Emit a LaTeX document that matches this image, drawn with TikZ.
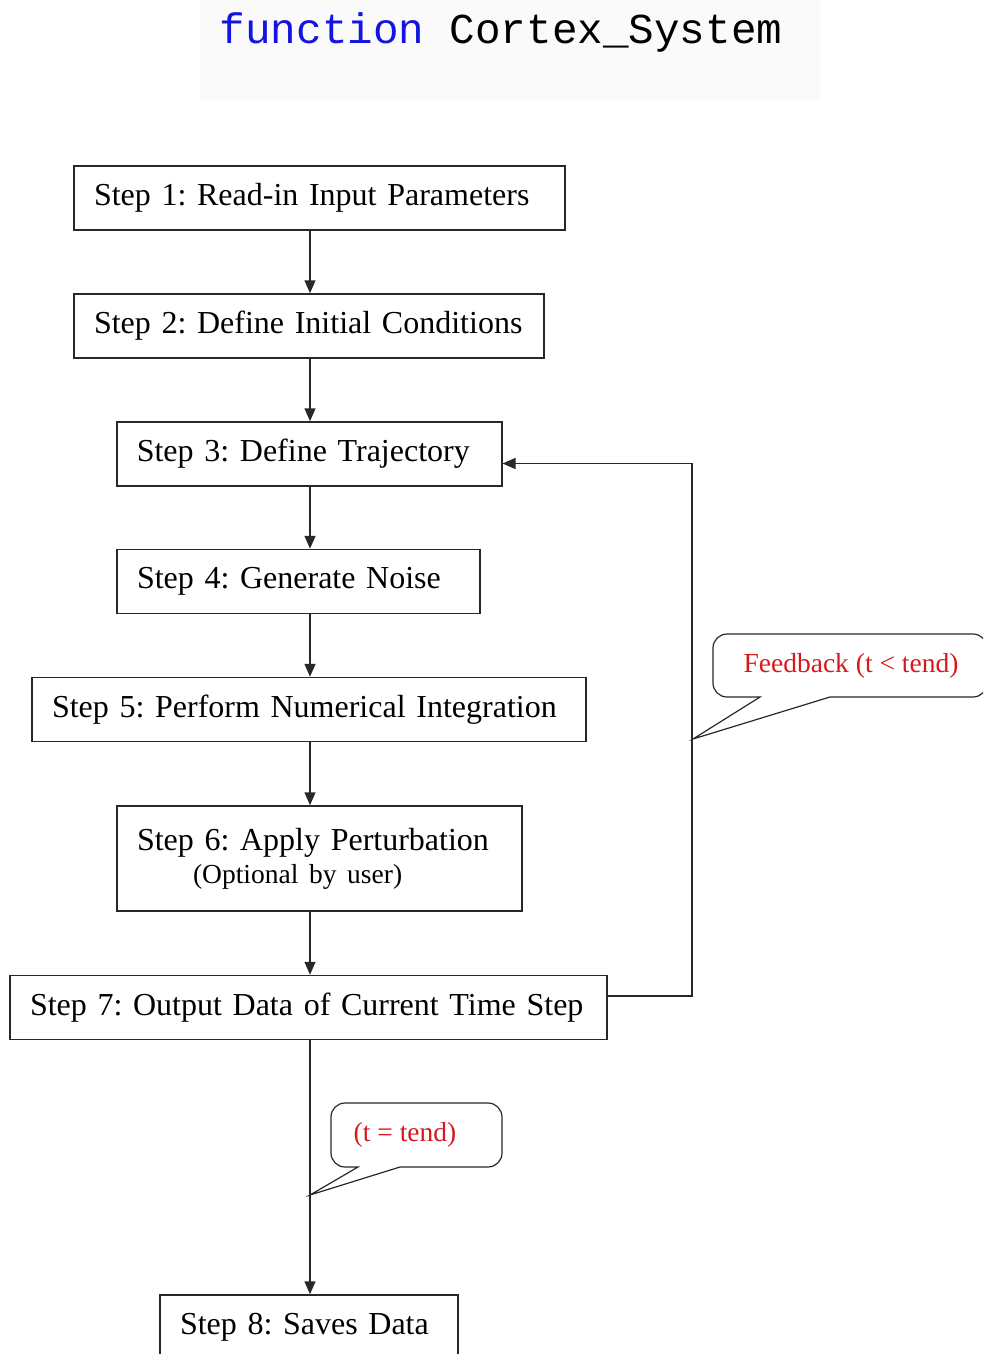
\documentclass[tikz,border=0pt]{standalone}
\usepackage{fontspec}
\setmainfont{Liberation Serif}
\setmonofont{Liberation Mono}
\usetikzlibrary{arrows.meta}

\definecolor{kwblue}{RGB}{20,20,225}
\definecolor{notered}{RGB}{215,25,30}
\definecolor{edge}{RGB}{40,40,40}
\newcommand{\stepfont}{\fontsize{32}{37}\selectfont\frenchspacing}
\newcommand{\notefont}{\fontsize{27.5}{31}\selectfont\frenchspacing}

\tikzset{
  stepbox/.style={draw=edge, line width=1.5pt, inner xsep=20pt, inner ysep=4pt,
    minimum height=64pt, align=left, font=\stepfont},
  flow/.style={draw=edge, line width=1.5pt, -{Triangle[length=13pt,width=11pt]}},
  bubble/.style={draw=edge, line width=1.2pt, fill=white},
  bubbletext/.style={text=notered, font=\notefont},
}

\begin{document}
\begin{tikzpicture}[x=1pt,y=-1pt]

            \useasboundingbox (0,0) rectangle (983,1354);
            \clip (0,0) rectangle (983,1354);

            % title
            \fill[gray!4] (200,0) rectangle (820,100);
            \node[font=\ttfamily\fontsize{42.6}{46}\selectfont] (title) at (501,32)
            {\textcolor{kwblue}{function} Cortex\_System};

            \coordinate (spine) at (310,0);

            % steps
            \node[stepbox,text width=451pt] (s1) at (319.5,198) {\mbox{Step 1: Read-in Input Parameters}};
            \node[stepbox,text width=430pt] (s2) at (309,326) {\mbox{Step 2: Define Initial Conditions}};
            \node[stepbox,text width=345pt] (s3) at (309.3,454) {\mbox{Step 3: Define Trajectory}};
            \node[stepbox,text width=323pt] (s4) at (298.5,581.5) {\mbox{Step 4: Generate Noise}};
            \node[stepbox,text width=514pt] (s5) at (309,709.5) {\mbox{Step 5: Perform Numerical Integration}};
            \node[stepbox,text width=365pt,minimum height=105pt] (s6) at (319.5,858.5)
            {\mbox{Step 6: Apply Perturbation}\\[-4pt]\hspace*{56pt}{\notefont (Optional by user)}};
            \node[stepbox,text width=557pt] (s7) at (308.5,1007.5) {\mbox{Step 7: Output Data of Current Time Step}};
            \node[stepbox,text width=258pt] (s8) at (309,1327) {\mbox{Step 8: Saves Data}};

            \foreach \a/\b in {s1/s2,s2/s3,s3/s4,s4/s5,s5/s6,s6/s7,s7/s8}
            \draw[flow] (\a.south -| spine) -- (\b.north -| spine);

            % loop back
            \coordinate (loop) at (692,0);
            \draw[flow] ([yshift=11.5pt]s7.east) -| ([yshift=-9.5pt]s3.east -| loop)
            -- ([yshift=-9.5pt]s3.east);

            % notes
            \coordinate (fbtip) at (693,739);
            \coordinate (endtip) at (310,1195);

            \draw[bubble] (830,697) [rounded corners=14pt] -- (987,697) -- (987,634)
            -- (713,634) -- (713,697) [sharp corners] -- (760,697) -- (fbtip) -- cycle;
            \node[bubbletext] (fbnote) at (851,666) {Feedback (t < tend)};

            \draw[bubble] (400,1167) [rounded corners=14pt] -- (502,1167) -- (502,1103)
            -- (331,1103) -- (331,1167) [sharp corners] -- (358,1167) -- (endtip) -- cycle;
            \node[bubbletext] (endnote) at (405,1135) {(t = tend)};

        \end{tikzpicture}
\end{document}
